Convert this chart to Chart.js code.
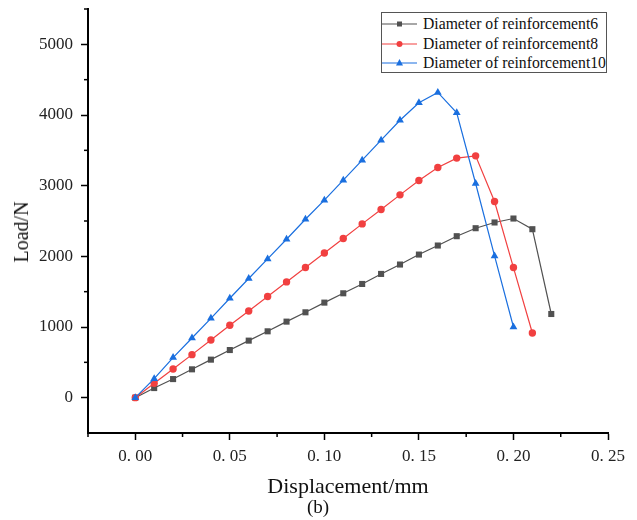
<!DOCTYPE html>
<html><head><meta charset="utf-8">
<script src="https://cdn.jsdelivr.net/npm/chart.js@4/dist/chart.umd.min.js"></script>
<style>
html,body{margin:0;padding:0;background:#fff;}
#wrap{position:relative;width:637px;height:520px;overflow:hidden;}
#c{position:absolute;left:0;top:0;}
.ov{position:absolute;font-family:'Liberation Serif',serif;color:#111;white-space:nowrap;}
#legbox{position:absolute;left:381px;top:12px;width:226px;height:61px;border:1px solid #555;box-sizing:border-box;background:#fff;}
.lt{font-size:15.7px;line-height:18px;}
#ytitle{font-size:20px;line-height:24px;left:21px;top:232px;transform:translate(-50%,-50%) rotate(-90deg);}
#cap{font-size:19px;line-height:20px;left:318px;top:507px;transform:translate(-50%,-50%);}
</style></head>
<body><div id="wrap"><canvas id="c" width="637" height="520"></canvas>
<div id="legbox"></div>
<div class="ov" id="ytitle">Load/N</div>
<div class="ov" id="cap">(b)</div>
</div>
<script>
// ---- data ----
const seriesNames = ['Diameter of reinforcement6','Diameter of reinforcement8','Diameter of reinforcement10'];
const disp6 = [0,0.01,0.02,0.03,0.04,0.05,0.06,0.07,0.08,0.09,0.10,0.11,0.12,0.13,0.14,0.15,0.16,0.17,0.18,0.19,0.20,0.21,0.22];
const load6 = [0,136,263,401,538,674,807,939,1076,1208,1345,1477,1609,1751,1884,2025,2153,2285,2398,2479,2535,2384,1184];
const disp8 = [0,0.01,0.02,0.03,0.04,0.05,0.06,0.07,0.08,0.09,0.10,0.11,0.12,0.13,0.14,0.15,0.16,0.17,0.18,0.19,0.20,0.21];
const load8 = [0,203,405,609,816,1024,1227,1431,1638,1841,2048,2252,2459,2663,2870,3074,3258,3390,3422,2776,1841,915];
const disp10 = [0,0.01,0.02,0.03,0.04,0.05,0.06,0.07,0.08,0.09,0.10,0.11,0.12,0.13,0.14,0.15,0.16,0.17,0.18,0.19,0.20];
const load10 = [0,269,567,844,1123,1407,1686,1963,2242,2525,2795,3078,3361,3644,3926,4173,4320,4031,3031,2006,1000];
const xTickVals = [0,0.05,0.10,0.15,0.20,0.25];
const xMinorVals = [-0.025,0.025,0.075,0.125,0.175,0.225];
const yTickVals = [0,1000,2000,3000,4000,5000];
const yMinorVals = [500,1500,2500,3500,4500,5500];

const colors = ['#515151','#F14040','#1A6FDF'];
const markers = ['rect','circle','triangle'];
const radii = [4.3,3.7,4.5];
const pairs = [[disp6,load6],[disp8,load8],[disp10,load10]];

Chart.defaults.font.family = "'Liberation Serif', serif";

const minorTicks = {
  id:'minorTicks',
  afterDraw(chart){
    const ctx = chart.ctx, xs = chart.scales.x, ys = chart.scales.y;
    ctx.save();
    ctx.strokeStyle = '#000'; ctx.lineWidth = 1.5;
    xMinorVals.forEach(v=>{
      const p = xs.getPixelForValue(v);
      ctx.beginPath(); ctx.moveTo(p, ys.bottom); ctx.lineTo(p, ys.bottom+4); ctx.stroke();
    });
    yMinorVals.forEach(v=>{
      const p = ys.getPixelForValue(v);
      ctx.beginPath(); ctx.moveTo(xs.left, p); ctx.lineTo(xs.left-4, p); ctx.stroke();
    });
    ctx.restore();
  }
};

const datasets = pairs.map((pr,i)=>({
  label: seriesNames[i],
  data: pr[0].map((x,j)=>({x:x, y:pr[1][j]})),
  borderColor: colors[i],
  backgroundColor: colors[i],
  borderWidth: 1.2,
  pointStyle: markers[i],
  pointRadius: radii[i],
  pointBorderWidth: 0,
  pointBackgroundColor: colors[i],
  tension: 0,
  order: 2 - i
}));

const chart = new Chart(document.getElementById('c'), {
  type: 'line',
  data: { datasets },
  options: {
    responsive:false, animation:false, devicePixelRatio:1,
    layout:{padding:{top:9,right:29,left:0,bottom:0}},
    plugins:{legend:{display:false}, tooltip:{enabled:false}},
    scales:{
      x:{
        type:'linear', min:-0.025, max:0.25,
        afterBuildTicks: s=>{ s.ticks = xTickVals.map(v=>({value:v})); },
        afterFit: s=>{ s.height = 87; s.paddingLeft = 0; s.paddingRight = 0; },
        grid:{drawOnChartArea:false, drawTicks:true, tickLength:7, tickColor:'#000', tickWidth:1.5},
        border:{display:true, color:'#000', width:2},
        ticks:{padding:6, color:'#222', font:{size:17}, maxRotation:0, autoSkip:false,
          callback: v => Number(v).toFixed(2).replace('.', '. ')},
        title:{display:true, text:'Displacement/mm', color:'#111', font:{size:22}, padding:{top:0,bottom:20}}
      },
      y:{
        type:'linear', min:-500, max:5500,
        afterBuildTicks: s=>{ s.ticks = yTickVals.map(v=>({value:v})); },
        afterFit: s=>{ s.width = 88; s.paddingTop = 0; s.paddingBottom = 0; },
        grid:{drawOnChartArea:false, drawTicks:true, tickLength:7, tickColor:'#000', tickWidth:1.5},
        border:{display:true, color:'#000', width:2},
        ticks:{padding:8, color:'#222', font:{size:17}, callback: v => String(v)}
      }
    }
  },
  plugins:[minorTicks]
});

// HTML legend built from the datasets
const wrap = document.getElementById('wrap');
const rowYs = [24, 43.5, 63];
datasets.forEach((d,i)=>{
  const svgNS = 'http://www.w3.org/2000/svg';
  const svg = document.createElementNS(svgNS,'svg');
  svg.setAttribute('width','36'); svg.setAttribute('height','12');
  svg.style.position='absolute'; svg.style.left='382px'; svg.style.top=(rowYs[i]-6)+'px';
  const ln = document.createElementNS(svgNS,'line');
  ln.setAttribute('x1','0'); ln.setAttribute('x2','35'); ln.setAttribute('y1','6'); ln.setAttribute('y2','6');
  ln.setAttribute('stroke', d.borderColor); ln.setAttribute('stroke-width','1.2');
  svg.appendChild(ln);
  let m;
  if (d.pointStyle==='rect'){ m=document.createElementNS(svgNS,'rect'); m.setAttribute('x','15'); m.setAttribute('y','3.5'); m.setAttribute('width','5'); m.setAttribute('height','5'); }
  else if (d.pointStyle==='circle'){ m=document.createElementNS(svgNS,'circle'); m.setAttribute('cx','17.5'); m.setAttribute('cy','6'); m.setAttribute('r','3'); }
  else { m=document.createElementNS(svgNS,'polygon'); m.setAttribute('points','17.5,2 21,8.5 14,8.5'); }
  m.setAttribute('fill', d.borderColor);
  svg.appendChild(m);
  wrap.appendChild(svg);
  const t = document.createElement('div');
  t.className='ov lt'; t.textContent=d.label;
  t.style.left='423px'; t.style.top=(rowYs[i]-9)+'px';
  wrap.appendChild(t);
});
</script>
</body></html>
